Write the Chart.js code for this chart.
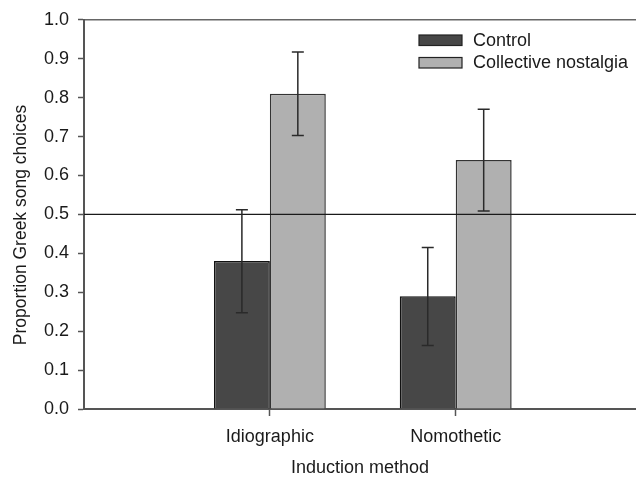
<!DOCTYPE html>
<html><head><meta charset="utf-8">
<script src="https://cdn.jsdelivr.net/npm/chart.js@4/dist/chart.umd.min.js"></script>
<style>html,body{margin:0;padding:0;background:#fff;overflow:hidden}</style>
</head><body>
<div style="width:636px;height:477px"><canvas id="c" width="636" height="477"></canvas></div>
<script>
const categories = ['Idiographic', 'Nomothetic'];
const categoryPositions = [1, 2];
const seriesLabels = ['Control', 'Collective nostalgia'];
const controlValues = [0.38, 0.29];
const controlLower = [0.247, 0.163];
const controlUpper = [0.512, 0.415];
const nostalgiaValues = [0.81, 0.64];
const nostalgiaLower = [0.703, 0.509];
const nostalgiaUpper = [0.917, 0.770];
const yTicks = [0, 0.1, 0.2, 0.3, 0.4, 0.5, 0.6, 0.7, 0.8, 0.9, 1.0];
const referenceValue = 0.5;
const xTitle = 'Induction method';
const yTitle = 'Proportion Greek song choices';

const FONT = "'Liberation Sans', Arial, sans-serif";
Chart.defaults.font.family = FONT;
Chart.defaults.font.size = 18;
Chart.defaults.color = '#1a1a1a';

const errorBars = {
  id: 'errorBars',
  afterDatasetsDraw(chart) {
    const ctx = chart.ctx;
    const y = chart.scales.y;
    const area = chart.chartArea;
    const ry = y.getPixelForValue(referenceValue);
    ctx.save();
    ctx.strokeStyle = '#1a1a1a';
    ctx.lineWidth = 1.2;
    ctx.beginPath();
    ctx.moveTo(area.left, ry);
    ctx.lineTo(area.right, ry);
    ctx.stroke();
    chart.data.datasets.forEach((ds, di) => {
      const meta = chart.getDatasetMeta(di);
      meta.data.forEach((bar, i) => {
        const yl = y.getPixelForValue(ds.lower[i]);
        const yh = y.getPixelForValue(ds.upper[i]);
        const x = bar.x;
        ctx.strokeStyle = '#2a2a2a';
        ctx.lineWidth = 1.5;
        ctx.beginPath();
        ctx.moveTo(x, yl); ctx.lineTo(x, yh);
        ctx.moveTo(x - 6, yl); ctx.lineTo(x + 6, yl);
        ctx.moveTo(x - 6, yh); ctx.lineTo(x + 6, yh);
        ctx.stroke();
      });
    });
    ctx.restore();
  }
};

const legendAndTitle = {
  id: 'legendAndTitle',
  afterDraw(chart, args, opts) {
    const ctx = chart.ctx;
    ctx.save();
    ctx.font = '18px ' + FONT;
    ctx.textBaseline = 'middle';
    chart.data.datasets.forEach((ds, i) => {
      const cy = opts.y + i * opts.spacing;
      ctx.fillStyle = ds.backgroundColor;
      ctx.fillRect(opts.x, cy - 5, 43, 10.5);
      ctx.strokeStyle = '#222';
      ctx.lineWidth = 1.2;
      ctx.strokeRect(opts.x, cy - 5, 43, 10.5);
      ctx.fillStyle = '#1a1a1a';
      ctx.fillText(ds.label, opts.x + 54, cy + 1);
    });
    // y axis title
    ctx.font = '17.5px ' + FONT;
    ctx.textAlign = 'center';
    ctx.textBaseline = 'alphabetic';
    ctx.translate(opts.titleX, opts.titleY);
    ctx.rotate(-Math.PI / 2);
    ctx.fillText(yTitle, 0, 0);
    ctx.restore();
  }
};

new Chart(document.getElementById('c'), {
  type: 'bar',
  data: {
    datasets: [
      {
        label: seriesLabels[0],
        data: categoryPositions.map((x, i) => ({ x: x, y: controlValues[i] })),
        lower: controlLower, upper: controlUpper,
        backgroundColor: '#474747', borderColor: '#111', borderWidth: 1.5,
        barPercentage: 1, categoryPercentage: 0.602
      },
      {
        label: seriesLabels[1],
        data: categoryPositions.map((x, i) => ({ x: x, y: nostalgiaValues[i] })),
        lower: nostalgiaLower, upper: nostalgiaUpper,
        backgroundColor: '#b0b0b0', borderColor: '#333', borderWidth: 1.5,
        barPercentage: 1, categoryPercentage: 0.602
      }
    ]
  },
  options: {
    responsive: false,
    animation: false,
    layout: { padding: 0 },
    plugins: {
      legend: { display: false },
      tooltip: { enabled: false },
      legendAndTitle: { x: 419, y: 40, spacing: 22.5, titleX: 26, titleY: 225 }
    },
    scales: {
      x: {
        type: 'linear', position: 'bottom', min: 0, max: 2.97, offset: false,
        afterBuildTicks: s => { s.ticks = categoryPositions.map(v => ({ value: v })); },
        afterFit: s => { s.height = 68; },
        ticks: { callback: (v, i) => categories[i], padding: 10, maxRotation: 0, autoSkip: false },
        grid: { display: true, offset: false, drawOnChartArea: false, drawTicks: true, tickLength: 7, tickColor: '#555', tickWidth: 1.5 },
        border: { display: true, color: '#555', width: 2 },
        title: { display: true, text: xTitle, padding: { top: 0, bottom: -2 } }
      },
      xTop: {
        type: 'linear', position: 'top', min: 0, max: 2.97, offset: false,
        ticks: { display: false },
        grid: { display: false, drawTicks: false },
        border: { display: true, color: '#666', width: 1.5 },
        afterFit: s => { s.height = 19; }
      },
      y: {
        min: 0, max: 1,
        afterBuildTicks: s => { s.ticks = yTicks.map(v => ({ value: v })); },
        afterFit: s => { s.width = 84; },
        ticks: { callback: v => v.toFixed(1), padding: 9 },
        grid: { display: true, drawOnChartArea: false, drawTicks: true, tickLength: 6, tickColor: '#555', tickWidth: 1.5 },
        border: { display: true, color: '#555', width: 2 }
      }
    }
  },
  plugins: [errorBars, legendAndTitle]
});
</script>
</body></html>
